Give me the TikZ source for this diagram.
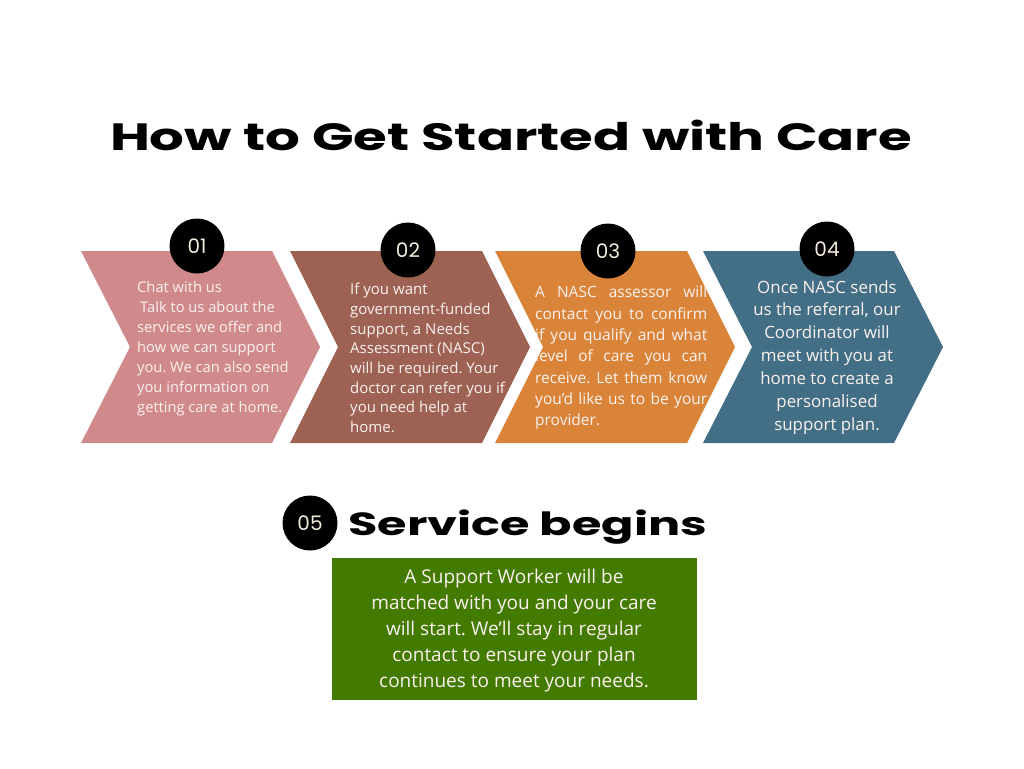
\documentclass[tikz,border=0pt]{standalone}
\usepackage{fontspec}
\setmainfont{Open Sans}
\newfontfamily\headfont{Poppins}
\definecolor{pinkc}{HTML}{D18A8C}
\definecolor{brownc}{HTML}{9D6253}
\definecolor{orangec}{HTML}{DA843A}
\definecolor{bluec}{HTML}{426F86}
\definecolor{greenc}{HTML}{437B00}
\definecolor{cream}{HTML}{F3EEDC}
\definecolor{txt}{HTML}{FAF1EE}
\frenchspacing
\begin{document}
\begin{tikzpicture}[x=1pt,y=-1pt,
  num/.style={circle,fill=black,minimum size=55pt,inner sep=0pt,text=cream,font=\headfont\fontsize{20}{20}\selectfont},
  body/.style={text=txt,inner sep=0pt}]
\fill[white] (0,0) rectangle (1024,768);
\path[use as bounding box] (0,0) rectangle (1024,768);

\node[anchor=base,inner sep=0pt,font=\headfont\bfseries\fontsize{38}{38}\selectfont] (title) at (511,150) {\resizebox{802pt}{\height}{How to Get Started with Care}};

\fill[pinkc] (81,251) -- (272,251) -- (320,347) -- (272,443) -- (81,443) -- (130,347) -- cycle;
\fill[brownc] (290,251) -- (482,251) -- (530,347) -- (482,443) -- (290,443) -- (338,347) -- cycle;
\fill[orangec] (495,251) -- (687,251) -- (735,347) -- (687,443) -- (495,443) -- (543,347) -- cycle;
\fill[bluec] (703,251) -- (894,251) -- (943,347) -- (894,443) -- (703,443) -- (752,347) -- cycle;

\node[num] (n1) at (197,246) {01};
\node[num] (n2) at (408,250) {02};
\node[num] (n3) at (608,251) {03};
\node[num] (n4) at (827,249) {04};

\node[body,anchor=north west,align=left,font=\fontsize{14.7}{20}\selectfont] (t1) at (137,281)
 {Chat with us\\\hspace*{3pt}Talk to us about the\\services we offer and\\how we can support\\you. We can also send\\you information on\\getting care at home.};
\node[body,anchor=north west,align=left,font=\fontsize{15}{19.7}\selectfont] (t2) at (350,283)
 {If you want\\government-funded\\support, a Needs\\Assessment (NASC)\\will be required. Your\\doctor can refer you if\\you need help at\\home.};
\node[body,anchor=north west,align=left,font=\fontsize{15.5}{21.3}\selectfont] (t3) at (535,286)
 {\makebox[172pt][s]{A NASC assessor will}\\\makebox[172pt][s]{contact you to confirm}\\\makebox[172pt][s]{if you qualify and what}\\\makebox[172pt][s]{level of care you can}\\\makebox[172pt][s]{receive. Let them know}\\\makebox[172pt][s]{you’d like us to be your}\\provider.};
\node[body,anchor=north,align=center,font=\fontsize{16.9}{22.9}\selectfont] (t4) at (827,280)
 {Once NASC sends\\us the referral, our\\Coordinator will\\meet with you at\\home to create a\\personalised\\support plan.};

\node[num] (n5) at (310,523) {05};
\node[anchor=base west,inner sep=0pt,font=\headfont\bfseries\fontsize{32}{32}\selectfont] (svc) at (348,535) {\resizebox{359pt}{\height}{Service begins}};

\node[fill=greenc,minimum width=365pt,minimum height=142pt,inner sep=0pt] (gbox) at (514.5,629) {};
\node[body,anchor=north,align=center,font=\fontsize{19}{26}\selectfont] (t5) at (514,569)
 {A Support Worker will be\\matched with you and your care\\will start. We’ll stay in regular\\contact to ensure your plan\\continues to meet your needs.};
\end{tikzpicture}
\end{document}
